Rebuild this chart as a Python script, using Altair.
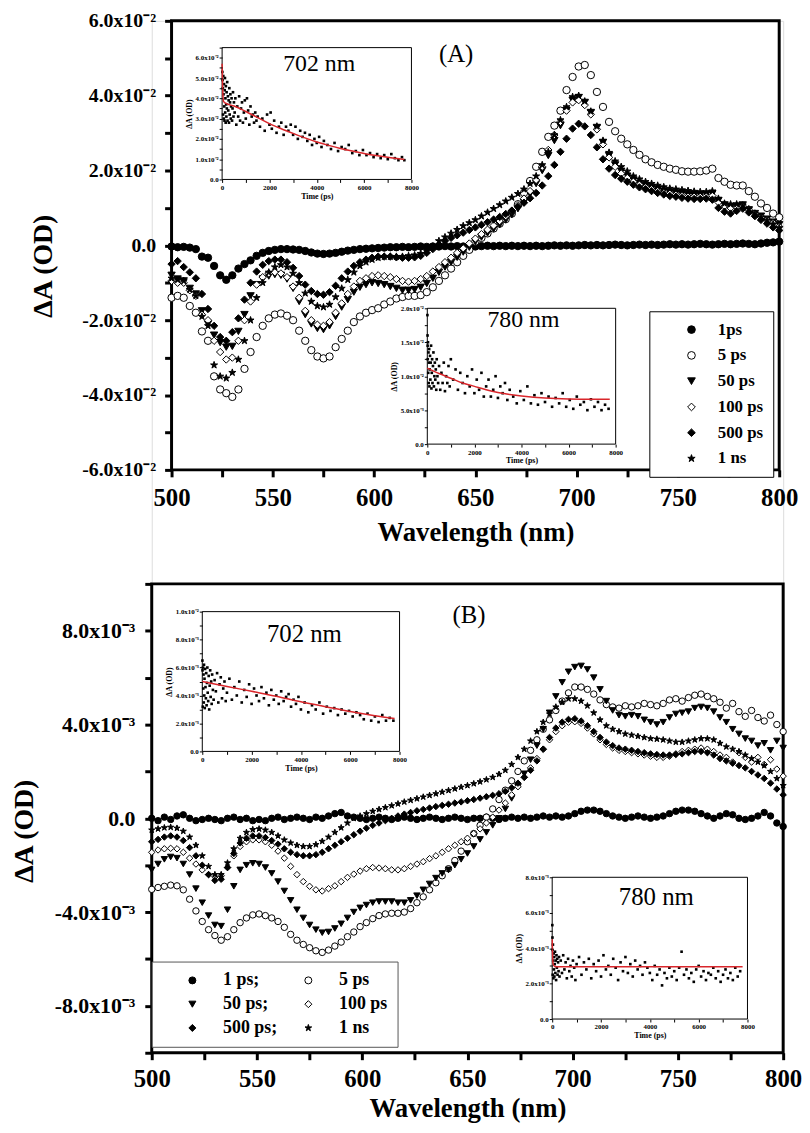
import altair as alt
import pandas as pd

FONT = "Liberation Serif"
W, H = 637, 1041
M2 = "x10\u207b\u00b2"
M3 = "x10\u207b\u00b3"
STAR = ("M0,-1L0.2245,-0.309L0.951,-0.309L0.363,0.118L0.588,0.809L0,0.382"
        "L-0.588,0.809L-0.363,0.118L-0.951,-0.309L-0.2245,-0.309Z")
STYLE = {
    "1ps": ("circle", "black"), "1 ps": ("circle", "black"),
    "5 ps": ("circle", "white"), "50 ps": ("triangle-down", "black"),
    "100 ps": ("diamond", "white"), "500 ps": ("diamond", "black"),
    "1 ns": (STAR, "black"),
}

# ---------------- Panel A (values in 1e-2 OD) ----------------
names_A = ["1ps", "5 ps", "50 ps", "100 ps", "500 ps", "1 ns"]
wl_A = list(range(500, 801, 3))
A_1ps = [-0.03, -0.05, -0.04, -0.06, -0.1, -0.3, -0.33, -0.55, -0.8, -0.92,
         -0.8, -0.62, -0.5, -0.4, -0.28, -0.2, -0.15, -0.12, -0.1, -0.1,
         -0.11, -0.12, -0.15, -0.19, -0.22, -0.23, -0.22, -0.2, -0.17, -0.14,
         -0.12, -0.1, -0.09, -0.08, -0.07, -0.06, -0.05, -0.05, -0.04, -0.05,
         -0.04, -0.03, -0.04, -0.03, -0.03, -0.02, -0.03, -0.02, -0.03, -0.02,
         -0.03, -0.02, -0.01, -0.02, -0.01, -0.02, -0.01, -0.02, -0.01, -0.02,
         -0.01, -0.02, -0.01, 0.0, -0.01, 0.0, -0.01, 0.0, 0.01, 0.0,
         0.01, 0.0, 0.01, 0.02, 0.01, 0.0, 0.01, 0.02, 0.01, 0.02,
         0.01, 0.02, 0.03, 0.02, 0.03, 0.02, 0.03, 0.04, 0.03, 0.02,
         0.03, 0.04, 0.03, 0.04, 0.05, 0.04, 0.03, 0.05, 0.07, 0.08,
         0.1]
A_5ps = [-1.4, -1.35, -1.4, -1.62, -1.8, -2.3, -2.55, -3.5, -3.85, -3.95,
         -4.05, -3.85, -3.3, -2.85, -2.45, -2.15, -1.95, -1.85, -1.82, -1.88,
         -2.0, -2.28, -2.55, -2.8, -2.97, -3.02, -2.97, -2.72, -2.5, -2.28,
         -2.05, -1.9, -1.8, -1.73, -1.68, -1.58, -1.5, -1.42, -1.38, -1.35,
         -1.35, -1.33, -1.25, -1.12, -0.95, -0.8, -0.62, -0.45, -0.28, -0.12,
         0.1, 0.2, 0.32, 0.45, 0.58, 0.7, 0.85, 1.1, 1.4, 1.72,
         2.1, 2.5, 2.9, 3.2, 3.6, 4.15, 4.5, 4.78, 4.82, 4.55,
         4.1, 3.7, 3.3, 3.05, 2.85, 2.7, 2.55, 2.42, 2.3, 2.22,
         2.15, 2.1, 2.05, 2.02, 1.98, 1.97, 1.97, 1.98, 2.0, 2.05,
         1.8, 1.7, 1.62, 1.6, 1.6, 1.45, 1.3, 1.12, 1.0, 0.85,
         0.75]
A_50ps = [-0.8, -0.9, -0.95, -1.15, -1.3, -1.75, -2.1, -2.4, -2.6, -2.72,
          -2.7, -2.3, -1.85, -1.35, -1.05, -0.9, -0.82, -0.78, -0.8, -0.9,
          -1.15, -1.5, -1.85, -2.1, -2.22, -2.25, -2.15, -1.9, -1.65, -1.45,
          -1.25, -1.12, -1.05, -1.0, -1.02, -1.05, -1.1, -1.15, -1.2, -1.2,
          -1.18, -1.12, -1.02, -0.88, -0.72, -0.58, -0.45, -0.32, -0.18, -0.05,
          0.1, 0.22, 0.33, 0.44, 0.55, 0.68, 0.82, 0.98, 1.15, 1.38,
          1.65, 2.0, 2.4, 2.8, 3.2, 3.6, 3.88, 3.95, 3.82, 3.55,
          3.15, 2.75, 2.4, 2.15, 1.98, 1.85, 1.75, 1.66, 1.6, 1.55,
          1.5, 1.45, 1.42, 1.4, 1.38, 1.36, 1.35, 1.35, 1.36, 1.38,
          1.2, 1.08, 1.02, 1.05, 1.08, 0.95, 0.85, 0.78, 0.7, 0.62,
          0.55]
A_100ps = [-0.95, -1.0, -1.0, -1.2, -1.35, -1.85, -2.0, -2.55, -2.85, -3.05,
           -3.0, -2.55, -2.0, -1.5, -1.05, -0.85, -0.75, -0.72, -0.75, -0.85,
           -1.1, -1.4, -1.75, -2.0, -2.12, -2.15, -2.05, -1.8, -1.55, -1.3,
           -1.1, -0.95, -0.88, -0.82, -0.8, -0.82, -0.85, -0.9, -0.95, -0.97,
           -0.95, -0.9, -0.82, -0.7, -0.58, -0.45, -0.33, -0.2, -0.08, 0.05,
           0.18, 0.3, 0.42, 0.53, 0.65, 0.78, 0.92, 1.07, 1.25, 1.45,
           1.75, 2.1, 2.55, 2.95, 3.3, 3.6, 3.82, 3.88, 3.75, 3.5,
           3.1, 2.7, 2.35, 2.1, 1.92, 1.8, 1.7, 1.62, 1.55, 1.5,
           1.45, 1.4, 1.38, 1.35, 1.32, 1.3, 1.3, 1.3, 1.32, 1.33,
           1.15, 1.05, 1.0, 1.02, 1.05, 0.95, 0.85, 0.75, 0.68, 0.6,
           0.5]
A_500ps = [-0.5, -0.42, -0.58, -0.72, -0.88, -1.3, -1.7, -2.15, -2.45, -2.55,
           -2.32, -1.95, -1.45, -1.0, -0.7, -0.52, -0.42, -0.38, -0.38, -0.45,
           -0.6, -0.82, -1.05, -1.22, -1.3, -1.32, -1.25, -1.08, -0.88, -0.7,
           -0.55, -0.45, -0.38, -0.33, -0.3, -0.3, -0.3, -0.32, -0.33, -0.33,
           -0.32, -0.28, -0.2, -0.1, 0.02, 0.12, 0.2, 0.27, 0.34, 0.41,
           0.48, 0.55, 0.62, 0.69, 0.76, 0.84, 0.93, 1.03, 1.14, 1.26,
           1.4, 1.6, 1.85, 2.15, 2.5, 2.85, 3.12, 3.25, 3.18, 2.95,
           2.62, 2.3, 2.05, 1.88, 1.78, 1.7, 1.62, 1.55, 1.5, 1.45,
           1.4, 1.36, 1.32, 1.3, 1.27, 1.25, 1.24, 1.24, 1.25, 1.22,
           1.0, 0.9, 0.85, 0.92, 0.98, 0.88, 0.78, 0.68, 0.58, 0.48,
           0.4]
A_1ns = [-0.88, -0.92, -0.95, -1.18, -1.35, -1.9, -2.15, -3.2, -3.5, -3.55,
         -3.4, -3.05, -2.55, -2.0, -1.4, -1.0, -0.72, -0.58, -0.52, -0.58,
         -0.75, -1.0, -1.28, -1.5, -1.62, -1.65, -1.58, -1.38, -1.15, -0.92,
         -0.72, -0.55, -0.45, -0.38, -0.33, -0.3, -0.3, -0.3, -0.3, -0.28,
         -0.26, -0.22, -0.15, -0.03, 0.12, 0.22, 0.32, 0.42, 0.52, 0.6,
         0.68, 0.78, 0.88, 0.98, 1.08, 1.18, 1.28, 1.38, 1.5, 1.65,
         1.85, 2.15, 2.5, 2.95, 3.35, 3.7, 3.97, 4.0, 3.85, 3.58,
         3.18, 2.8, 2.48, 2.25, 2.1, 1.98, 1.85, 1.77, 1.7, 1.65,
         1.6, 1.56, 1.52, 1.5, 1.48, 1.46, 1.44, 1.43, 1.43, 1.45,
         1.25, 1.12, 1.1, 1.1, 1.07, 0.97, 0.85, 0.75, 0.67, 0.57,
         0.47]

# ---------------- Panel B (values in 1e-3 OD) ----------------
# legend order (column-major grid): 1 ps; 50 ps; 500 ps; | 5 ps 100 ps 1 ns
names_B = ["1 ps", "50 ps", "500 ps", "5 ps", "100 ps", "1 ns"]
wl_B = list(range(500, 801, 3))
B_1ps = [0.0, -0.1, 0.05, -0.05, 0.1, 0.15, 0.0, -0.1, -0.05, 0.0,
         -0.05, -0.1, 0.0, 0.05, -0.05, 0.0, -0.1, -0.05, -0.1, 0.0,
         0.05, -0.05, 0.0, 0.05, 0.0, -0.05, 0.05, 0.0, 0.1, 0.2,
         0.25, 0.1, 0.05, 0.0, -0.05, 0.0, 0.05, 0.0, -0.05, 0.0,
         0.05, 0.0, -0.05, 0.0, 0.05, 0.0, -0.05, 0.0, 0.05, 0.0,
         -0.05, 0.0, 0.0, 0.05, 0.0, -0.05, 0.0, 0.05, 0.0, 0.05,
         0.0, 0.05, 0.1, 0.05, 0.1, 0.05, 0.1, 0.2, 0.3, 0.35,
         0.35, 0.3, 0.2, 0.1, 0.05, 0.0, 0.05, 0.1, 0.05, 0.0,
         0.05, 0.1, 0.2, 0.3, 0.35, 0.35, 0.3, 0.2, 0.1, 0.0,
         0.1, 0.2, 0.15, 0.0, -0.05, 0.0, 0.1, 0.25, 0.1, -0.2,
         -0.35]
B_5ps = [-3.03, -2.95, -2.9, -2.85, -2.88, -3.05, -3.45, -3.95, -4.4, -4.75,
         -5.0, -5.2, -5.05, -4.75, -4.45, -4.25, -4.12, -4.08, -4.15, -4.25,
         -4.4, -4.65, -4.95, -5.2, -5.38, -5.52, -5.65, -5.72, -5.62, -5.45,
         -5.28, -5.05, -4.85, -4.62, -4.45, -4.28, -4.15, -4.08, -4.05, -4.05,
         -4.0, -3.85, -3.6, -3.35, -3.05, -2.75, -2.45, -2.15, -1.8, -1.4,
         -1.0, -0.65, -0.3, 0.05, 0.4, 0.8, 1.2, 1.6, 2.0, 2.45,
         2.9, 3.35, 3.8, 4.2, 4.6, 5.0, 5.35, 5.6, 5.6, 5.5,
         5.3, 5.05, 4.85, 4.75, 4.7, 4.8, 4.75, 4.8, 4.9, 4.85,
         4.8, 4.9, 5.05, 5.1, 5.0, 5.15, 5.25, 5.3, 5.2, 5.1,
         4.95, 4.7, 4.9, 4.55, 4.35, 4.6, 4.3, 4.15, 4.4, 4.0,
         3.7]
B_50ps = [-2.2, -1.95, -1.75, -1.65, -1.7, -1.95, -2.4, -3.0, -3.6, -4.15,
          -4.55, -4.6, -3.9, -2.9, -2.2, -2.0, -1.92, -1.95, -2.1, -2.35,
          -2.7, -3.1, -3.5, -3.9, -4.25, -4.55, -4.75, -4.88, -4.85, -4.7,
          -4.5, -4.25, -4.0, -3.82, -3.7, -3.6, -3.55, -3.55, -3.55, -3.6,
          -3.6, -3.5, -3.3, -3.05, -2.8, -2.55, -2.35, -2.2, -2.0, -1.75,
          -1.5, -1.2, -0.9, -0.6, -0.3, 0.0, 0.4, 0.85, 1.35, 1.9,
          2.5, 3.1, 3.8, 4.5, 5.2, 5.8, 6.25, 6.45, 6.5, 6.35,
          6.0, 5.5, 5.0, 4.6, 4.4, 4.35, 4.4, 4.35, 4.2, 4.1,
          4.0, 4.1, 4.3, 4.45, 4.5, 4.55, 4.7, 4.75, 4.7, 4.55,
          4.3, 4.1, 3.8, 3.6, 3.4, 3.3, 3.1, 3.2, 2.9, 3.3,
          3.0]
B_100ps = [-1.45, -1.35, -1.3, -1.28, -1.3, -1.45, -1.7, -1.95, -2.2, -2.4,
           -2.5, -2.45, -2.1, -1.6, -1.2, -1.0, -0.92, -0.92, -1.0, -1.15,
           -1.4, -1.7, -2.05, -2.4, -2.7, -2.9, -3.05, -3.1, -3.0, -2.88,
           -2.7, -2.52, -2.38, -2.25, -2.15, -2.1, -2.12, -2.15, -2.2, -2.2,
           -2.15, -2.05, -1.95, -1.85, -1.72, -1.6, -1.45, -1.3, -1.15, -1.0,
           -0.85, -0.65, -0.45, -0.2, 0.05, 0.35, 0.65, 1.0, 1.35, 1.75,
           2.15, 2.55, 2.95, 3.35, 3.7, 3.95, 4.1, 4.12, 4.05, 3.85,
           3.6, 3.35, 3.15, 3.0, 2.9, 2.85, 2.8, 2.75, 2.7, 2.65,
           2.6, 2.6, 2.65, 2.75, 2.85, 2.9, 2.95, 3.0, 2.95, 2.85,
           2.7, 2.6, 2.4, 2.8, 2.6, 2.4, 2.6, 2.3, 2.5, 2.1,
           1.8]
B_500ps = [-1.0, -0.9, -0.8, -0.75, -0.8, -0.95, -1.25, -1.6, -2.0, -2.4,
           -2.65, -2.6, -2.1, -1.5, -1.05, -0.85, -0.75, -0.75, -0.82, -0.95,
           -1.1, -1.3, -1.45, -1.55, -1.6, -1.6, -1.55, -1.45, -1.3, -1.15,
           -1.0, -0.85, -0.7, -0.55, -0.42, -0.3, -0.2, -0.1, 0.0, 0.1,
           0.18, 0.25, 0.32, 0.38, 0.44, 0.5, 0.55, 0.6, 0.65, 0.7,
           0.75, 0.8, 0.86, 0.92, 0.98, 1.05, 1.15, 1.3, 1.5, 1.75,
           2.05, 2.45, 2.95, 3.45, 3.85, 4.1, 4.22, 4.25, 4.15, 3.95,
           3.7, 3.45, 3.25, 3.1, 3.0, 2.95, 2.9, 2.85, 2.8, 2.75,
           2.72, 2.7, 2.7, 2.72, 2.75, 2.8, 2.85, 2.85, 2.8, 2.7,
           2.55, 2.45, 2.35, 2.25, 2.15, 2.0, 1.85, 1.7, 1.5, 1.25,
           1.0]
B_1ns = [-0.5, -0.45, -0.4, -0.38, -0.42, -0.55, -0.8, -1.15, -1.6, -2.05,
         -2.4, -2.4, -1.9, -1.3, -0.85, -0.6, -0.48, -0.45, -0.5, -0.6,
         -0.75, -0.92, -1.05, -1.15, -1.2, -1.2, -1.12, -0.98, -0.8, -0.6,
         -0.4, -0.2, 0.0, 0.1, 0.2, 0.3, 0.38, 0.46, 0.54, 0.62,
         0.7, 0.77, 0.84, 0.91, 0.98, 1.05, 1.12, 1.19, 1.26, 1.33,
         1.4, 1.48, 1.56, 1.65, 1.75, 1.88, 2.05, 2.3, 2.6, 2.95,
         3.3, 3.7, 4.1, 4.45, 4.75, 4.95, 5.1, 5.1, 5.0, 4.8,
         4.5, 4.2, 3.95, 3.8, 3.7, 3.6, 3.55, 3.5, 3.45, 3.4,
         3.38, 3.35, 3.3, 3.25, 3.25, 3.3, 3.35, 3.4, 3.4, 3.35,
         3.2, 3.05, 2.95, 2.85, 2.7, 2.55, 2.4, 2.25, 2.0, 1.7,
         1.4]

# ---------------- Insets: kinetics (time in ps) ----------------
# A, 702 nm (1e-2 OD)
tA1 = [10, 20, 30, 40, 50, 60, 70, 80, 90, 100, 110, 120, 130, 140, 150, 160, 170, 180, 190, 200,
       215, 230, 245, 260, 275, 290, 305, 320, 335, 350, 365, 380, 400, 420, 440, 460, 480, 500,
       530, 560, 600, 640, 680, 720, 760, 800, 840, 880, 920, 960, 1000, 1050, 1100, 1150, 1200,
       1250, 1300, 1350, 1400, 1450, 1500,
       1600, 1700, 1800, 1900, 2000, 2050, 2100, 2200, 2300, 2400, 2500, 2600, 2700, 2800, 2900,
       3000, 3100, 3200, 3300, 3400, 3500,
       3600, 3700, 3800, 3900, 4000, 4100, 4200, 4300, 4450, 4600, 4750, 4900, 5050, 5200, 5350,
       5500, 5650, 5800, 5950, 6100, 6250, 6400, 6550, 6700, 6850, 7000, 7150, 7300, 7450, 7600, 7700]
vA1 = [5.3, 4.9, 4.5, 3.2, 5.1, 4.2, 3.0, 4.7, 3.6, 2.9, 4.4, 5.0, 3.3, 4.0, 2.8, 4.6, 3.7, 3.1, 4.3, 3.5,
       4.8, 2.9, 4.1, 3.4, 3.9, 2.8, 4.5, 3.2, 3.8, 4.2, 3.0, 3.6, 4.0, 2.9, 3.5, 4.3, 3.1, 3.8,
       3.3, 4.0, 2.7, 3.6, 3.1, 4.1, 2.9, 3.5, 3.8, 2.8, 3.3, 3.9, 3.0, 4.0, 3.4, 2.7, 3.6,
       3.1, 3.2, 2.8, 3.3, 2.9, 3.1,
       2.6, 3.0, 2.4, 3.2, 2.7, 3.3, 2.5, 2.9, 2.3, 2.6, 2.8, 2.2, 2.6, 2.4, 2.7,
       2.2, 2.6, 2.0, 2.4, 2.1, 2.3,
       1.9, 2.2, 1.7, 2.0, 1.8, 2.1, 1.6, 1.9, 1.7, 1.5, 1.8, 1.4, 1.6, 1.5, 1.7,
       1.3, 1.4, 1.2, 1.45, 1.2, 1.3, 1.1, 1.25, 1.05, 1.2, 1.0, 1.25, 1.05, 0.95, 1.1, 0.95]
fit_tA1 = [0, 25, 60, 150, 500, 1000, 1500, 2000, 2500, 3000, 3500, 4000, 4500, 5000, 5500, 6000, 6500, 7000, 7700]
fit_vA1 = [5.7, 4.4, 3.85, 3.76, 3.62, 3.35, 3.05, 2.75, 2.5, 2.27, 2.05, 1.85, 1.68, 1.53, 1.4, 1.28, 1.18, 1.09, 0.98]

# A, 780 nm (1e-2 OD)
tA2 = [5, 10, 15, 20, 30, 40, 50, 60, 70, 80, 90, 100, 115, 130, 145, 160, 175, 190, 205, 220,
       240, 260, 280, 300, 320, 340, 360, 380, 400, 430, 460, 500, 550, 600, 650, 700, 750, 800,
       850, 900, 950, 1000, 1100, 1200, 1300, 1400, 1500, 1600, 1700, 1800, 1900, 2000, 2100, 2200,
       2300, 2400, 2500, 2600, 2700, 2800, 2900, 3000, 3100, 3200, 3300, 3400, 3500, 3650, 3800,
       3950, 4100, 4250, 4400, 4550, 4700, 4850, 5000, 5150, 5300, 5450, 5600, 5750, 5900, 6050,
       6200, 6350, 6500, 6650, 6800, 6950, 7100, 7250, 7400, 7550, 7700]
vA2 = [1.9, 1.6, 1.45, 1.25, 1.5, 1.05, 1.35, 0.9, 1.2, 1.4, 0.85, 1.1, 1.3, 0.95, 1.2, 1.45, 0.82, 1.05, 1.25, 0.9,
       1.15, 1.35, 0.85, 1.0, 1.2, 0.95, 1.1, 0.8, 1.25, 1.0, 0.9, 1.15, 0.8, 1.05, 0.9, 1.2, 0.78, 1.0,
       0.9, 1.15, 0.85, 1.25, 0.95, 1.1, 0.8, 1.05, 0.9, 0.75, 1.0, 0.85, 1.1, 0.75, 0.95, 0.8,
       1.05, 0.7, 0.85, 0.95, 0.7, 0.8, 1.0, 0.68, 0.85, 0.75, 0.9, 0.65, 0.8, 0.7, 0.6,
       0.78, 0.65, 0.85, 0.6, 0.72, 0.58, 0.75, 0.62, 0.7, 0.55, 0.68, 0.6, 0.75, 0.55, 0.65,
       0.52, 0.7, 0.58, 0.62, 0.5, 0.66, 0.55, 0.62, 0.5, 0.58, 0.52]
fit_tA2 = [0, 500, 1000, 1500, 2000, 2500, 3000, 3500, 4000, 5000, 6000, 7000, 7750]
fit_vA2 = [1.12, 1.04, 0.97, 0.9, 0.85, 0.8, 0.76, 0.73, 0.71, 0.68, 0.665, 0.66, 0.66]

# B, 702 nm (1e-3 OD)
tB1 = [5, 10, 20, 30, 40, 50, 60, 70, 80, 90, 100, 115, 130, 145, 160, 175, 190, 205, 220, 240,
       260, 280, 300, 320, 340, 360, 380, 400, 430, 460, 500, 550, 600, 650, 700, 750, 800, 850,
       900, 950, 1000, 1100, 1200, 1300, 1400, 1500, 1600, 1700, 1800, 1900, 2000, 2100, 2200, 2300,
       2400, 2500, 2600, 2700, 2800, 2900, 3000, 3100, 3200, 3300, 3400, 3500, 3600, 3700, 3800,
       3900, 4000, 4150, 4300, 4450, 4600, 4750, 4900, 5050, 5200, 5350, 5500, 5650, 5800, 5950,
       6100, 6250, 6400, 6550, 6700, 6850, 7000, 7150, 7300, 7450, 7600, 7750]
vB1 = [6.5, 5.8, 3.2, 6.0, 4.5, 5.5, 3.5, 6.2, 4.0, 5.2, 3.1, 5.9, 4.6, 3.8, 5.6, 3.3, 4.9, 6.0, 4.2, 3.6,
       5.4, 3.0, 4.7, 5.8, 3.9, 5.0, 3.4, 5.5, 4.4, 3.7, 5.1, 4.3, 5.6, 3.5, 4.8, 5.3, 3.8, 4.5,
       5.0, 3.6, 4.2, 5.2, 3.7, 4.6, 4.0, 5.0, 3.5, 4.4, 3.9, 4.8, 3.4, 4.5, 4.0, 3.6,
       4.6, 3.8, 4.2, 3.3, 4.4, 3.7, 4.0, 3.4, 4.3, 3.6, 3.9, 4.1, 3.2, 3.7, 3.4,
       3.9, 3.0, 3.5, 2.8, 3.3, 3.0, 3.5, 2.7, 3.2, 2.9, 3.1, 2.6, 3.0, 2.7, 2.9,
       2.5, 2.8, 2.6, 2.3, 2.7, 2.2, 2.5, 2.1, 2.6, 2.2, 2.4, 2.2]
fit_tB1 = [0, 1000, 2000, 3000, 4000, 5000, 6000, 7000, 7800]
fit_vB1 = [5.0, 4.65, 4.3, 3.95, 3.55, 3.2, 2.85, 2.55, 2.35]

# B, 780 nm (1e-3 OD)
tB2 = [5, 10, 15, 20, 30, 40, 50, 60, 70, 80, 90, 100, 115, 130, 145, 160, 175, 190, 205, 220,
       240, 260, 280, 300, 350, 400, 450, 500, 550, 600, 650, 700, 750, 800, 850, 900, 950, 1000,
       1100, 1200, 1300, 1400, 1500, 1600, 1700, 1800, 1900, 2000, 2100, 2200, 2300, 2400, 2500,
       2600, 2700, 2800, 2900, 3000, 3100, 3200, 3300, 3400, 3500, 3600, 3700, 3800, 3900, 4000,
       4100, 4200, 4300, 4400, 4500, 4600, 4700, 4800, 4900, 5000, 5100, 5200, 5300, 5400, 5500,
       5600, 5700, 5800, 5900, 6000, 6100, 6200, 6300, 6400, 6500, 6600, 6700, 6800, 6900, 7000,
       7100, 7200, 7300, 7400, 7500, 7600, 7700]
vB2 = [5.3, 4.6, 3.9, 2.5, 4.2, 3.3, 2.3, 3.7, 2.8, 3.5, 2.4, 3.1, 3.8, 2.6, 3.3, 2.2, 3.6, 2.9, 3.4, 2.5,
       3.2, 2.7, 3.5, 2.4, 3.3, 2.6, 3.6, 2.8, 3.2, 2.3, 3.4, 2.7, 3.0, 2.4, 3.3, 2.9, 2.2, 3.1,
       3.5, 2.5, 3.2, 2.8, 3.4, 2.3, 3.1, 2.7, 3.3, 2.4, 3.6, 2.8, 3.0, 2.5, 3.4,
       2.9, 2.2, 3.2, 2.7, 3.5, 2.6, 3.1, 2.4, 3.3, 2.8, 3.0, 2.5, 3.2, 2.9, 2.6,
       2.2, 3.0, 2.5, 2.8, 1.9, 2.6, 2.3, 2.9, 2.4, 2.7, 2.2, 2.9, 3.8, 2.5, 2.8,
       2.3, 2.6, 2.1, 2.8, 3.0, 2.4, 2.7, 2.2, 2.6, 2.5, 2.9, 2.3, 2.7, 2.1, 2.5,
       2.8, 2.3, 2.6, 2.2, 2.9, 2.4, 2.7]
fit_tB2 = [0, 15, 40, 100, 300, 1000, 2000, 3000, 4000, 5000, 6000, 7000, 7800]
fit_vB2 = [4.5, 3.6, 3.1, 2.97, 2.95, 2.95, 2.95, 2.95, 2.95, 2.95, 2.95, 2.95, 2.95]


def long_df(wl, series):
    rows = []
    for name, vals in series:
        for w, v in zip(wl, vals):
            rows.append({"wl": w, "val": v, "series": name})
    return pd.DataFrame(rows)


def xy_df(t, v):
    return pd.DataFrame(list(zip(t, v)), columns=["t", "v"])


def main_x_axis(offset, title_y, lab_pad):
    return alt.Axis(
        orient="bottom", offset=offset, title="Wavelength (nm)",
        values=list(range(500, 801, 25)), format="d",
        labelExpr="datum.value % 50 == 0 ? datum.label : ''",
        domain=False, grid=False, ticks=True, tickSize=7, tickWidth=3, tickColor="black",
        labelFont=FONT, labelFontSize=25, labelFontWeight="bold", labelColor="black",
        labelPadding=lab_pad, labelBaseline="alphabetic", labelFlush=False, labelOverlap=False,
        titleFont=FONT, titleFontSize=27, titleFontWeight="bold", titleColor="black",
        titleY=title_y, titleBaseline="alphabetic")


def main_y_axis(offset, values, expr, lab_size, lab_pad, title_x, title_y):
    return alt.Axis(
        orient="left", offset=offset, title="\u0394A (OD)", values=values, labelExpr=expr,
        domain=False, grid=False, ticks=True, tickSize=7, tickWidth=3, tickColor="black",
        labelFont=FONT, labelFontSize=lab_size, labelFontWeight="bold", labelColor="black",
        labelPadding=lab_pad, labelFlush=False, labelOverlap=False,
        titleFont=FONT, titleFontSize=28, titleFontWeight="bold", titleColor="black",
        titleX=title_x, titleY=title_y)


def main_layer(df, names, xr, yr, ydom, xaxis, yaxis, legend, size, label, lx, ly):
    xs = alt.Scale(domain=[500, 800], range=xr, nice=False, zero=False)
    ys = alt.Scale(domain=ydom, range=yr, nice=False, zero=False)
    shapes = [STYLE[n][0] for n in names]
    fills = [STYLE[n][1] for n in names]
    fdf = pd.DataFrame({"x0": [500], "x1": [800], "y0": [ydom[0]], "y1": [ydom[1]]})
    frame = alt.Chart(fdf).mark_rect(fillOpacity=0, stroke="black", strokeWidth=3).encode(
        x=alt.X("x0:Q", scale=xs, axis=xaxis), x2="x1:Q",
        y=alt.Y("y0:Q", scale=ys, axis=yaxis), y2="y1:Q")
    pts = alt.Chart(df).mark_point(filled=True, size=size, strokeWidth=1, opacity=1).encode(
        x=alt.X("wl:Q", scale=xs, axis=xaxis),
        y=alt.Y("val:Q", scale=ys, axis=yaxis),
        shape=alt.Shape("series:N", scale=alt.Scale(domain=names, range=shapes), legend=legend),
        fill=alt.Fill("series:N", scale=alt.Scale(domain=names, range=fills), legend=legend),
        stroke=alt.Stroke("series:N", scale=alt.Scale(domain=names, range=["black"] * 6),
                          legend=legend))
    tdf = pd.DataFrame({"wl": [lx], "val": [ly], "txt": [label]})
    txt = alt.Chart(tdf).mark_text(font=FONT, fontSize=25, color="black",
                                   baseline="alphabetic", align="center").encode(
        x=alt.X("wl:Q", scale=xs, axis=xaxis),
        y=alt.Y("val:Q", scale=ys, axis=yaxis),
        text="txt:N")
    return alt.layer(frame, pts, txt)


def inset_layer(t, v, ft, fv, ymax, xr, yr, yvals, yexpr, label, lt, lv, lsize):
    xs = alt.Scale(domain=[0, 8000], range=xr, nice=False, zero=False)
    ys = alt.Scale(domain=[0, ymax], range=yr, nice=False, zero=False)
    xax = alt.Axis(
        orient="bottom", offset=yr[0] - H, title="Time (ps)",
        values=list(range(0, 8001, 1000)), format="d",
        labelExpr="datum.value % 2000 == 0 ? datum.label : ''",
        domain=False, grid=False, tickSize=3, tickWidth=1, tickColor="black",
        labelFont=FONT, labelFontSize=7, labelFontWeight="bold", labelColor="black",
        labelPadding=1, labelFlush=False, labelOverlap=False,
        titleFont=FONT, titleFontSize=8, titleFontWeight="bold", titleColor="black",
        titlePadding=2, zindex=1)
    yax = alt.Axis(
        orient="left", offset=-xr[0], title="\u0394A (OD)", values=yvals, labelExpr=yexpr,
        domain=False, grid=False, tickSize=3, tickWidth=1, tickColor="black",
        labelFont=FONT, labelFontSize=7, labelFontWeight="bold", labelColor="black",
        labelPadding=1, labelFlush=False, labelOverlap=False,
        titleFont=FONT, titleFontSize=8, titleFontWeight="bold", titleColor="black",
        titlePadding=2, zindex=1)
    fdf = pd.DataFrame({"t": [0], "t2": [8000], "v": [0], "v2": [ymax]})
    frame = alt.Chart(fdf).mark_rect(fill="white", stroke="black", strokeWidth=1).encode(
        x=alt.X("t:Q", scale=xs, axis=xax), x2="t2:Q",
        y=alt.Y("v:Q", scale=ys, axis=yax), y2="v2:Q")
    pts = alt.Chart(xy_df(t, v)).mark_square(size=7, color="black", opacity=1).encode(
        x=alt.X("t:Q", scale=xs, axis=xax), y=alt.Y("v:Q", scale=ys, axis=yax))
    fit = alt.Chart(xy_df(ft, fv)).mark_line(color="#d9262b", strokeWidth=1.5,
                                             interpolate="monotone").encode(
        x=alt.X("t:Q", scale=xs, axis=xax), y=alt.Y("v:Q", scale=ys, axis=yax))
    ldf = pd.DataFrame({"t": [lt], "v": [lv], "txt": [label]})
    txt = alt.Chart(ldf).mark_text(font=FONT, fontSize=lsize, color="black",
                                   baseline="alphabetic", align="center").encode(
        x=alt.X("t:Q", scale=xs, axis=xax), y=alt.Y("v:Q", scale=ys, axis=yax),
        text="txt:N")
    return alt.layer(frame, pts, fit, txt)


dfA = long_df(wl_A, [("1ps", A_1ps), ("5 ps", A_5ps), ("50 ps", A_50ps),
                     ("100 ps", A_100ps), ("500 ps", A_500ps), ("1 ns", A_1ns)])
dfB = long_df(wl_B, [("1 ps", B_1ps), ("5 ps", B_5ps), ("50 ps", B_50ps),
                     ("100 ps", B_100ps), ("500 ps", B_500ps), ("1 ns", B_1ns)])

exprA = ("datum.value % 2 != 0 ? '' : datum.value == 0 ? '0.0' : "
         "(datum.value < 0 ? '-' : '') + format(abs(datum.value), '.1f') + '" + M2 + "'")
exprB = ("datum.value % 4 != 0 ? '' : datum.value == 0 ? '0.0' : "
         "(datum.value < 0 ? '-' : '') + format(abs(datum.value), '.1f') + '" + M3 + "'")

legA = alt.Legend(orient="none", legendX=502, legendY=293, title=None,
                  padding=10, rowPadding=8, symbolSize=60, symbolStrokeColor="black",
                  symbolStrokeWidth=1, symbolOffset=24, labelOffset=18,
                  labelFont=FONT, labelFontSize=17, labelFontWeight="bold", labelColor="black",
                  strokeColor="black", fillColor="white")
legB = alt.Legend(orient="none", legendX=0, legendY=949, title=None, columns=2,
                  padding=10, rowPadding=6, columnPadding=0, symbolSize=50,
                  symbolStrokeColor="black", symbolStrokeWidth=1, symbolOffset=22,
                  labelOffset=22, labelFont=FONT, labelFontSize=18, labelFontWeight="bold",
                  labelColor="black", strokeColor="#555555", fillColor="white",
                  labelExpr="indexof(['1 ps','50 ps','500 ps'], datum.label) >= 0 ? datum.label + ';' : datum.label")

mainA = main_layer(dfA, names_A, [20, 633], [453, 0], [-6, 6],
                   main_x_axis(453 - H, 71, 29),
                   main_y_axis(-20, list(range(-6, 7)), exprA, 20, 9, -115, 247),
                   legA, 55, "(A)", 640.5, 4.9)
mainB = main_layer(dfB, names_B, [0, 637], [1041, 568], [-10, 10],
                   main_x_axis(0, 64, 27),
                   main_y_axis(0, list(range(-10, 11, 2)), exprB, 22, 10, -114, 817),
                   legB, 42, "(B)", 650.7, 8.34)

insA1 = inset_layer(tA1, vA1, fit_tA1, fit_vA1, 6.5, [71, 262], [160, 27],
                    [x / 2 for x in range(0, 14)],
                    "datum.value % 1 != 0 ? '' : datum.value == 0 ? '0.0' : format(datum.value, '.1f') + '" + M2 + "'",
                    "702 nm", 4100, 5.35, 24)
insA2 = inset_layer(tA2, vA2, fit_tA2, fit_vA2, 2.0, [278, 468], [427, 290],
                    [x / 4 for x in range(0, 9)],
                    "datum.value % 0.5 != 0 ? '' : datum.value == 0 ? '0.0' : datum.value < 1 ? "
                    "format(datum.value * 10, '.1f') + '" + M3 + "' : format(datum.value, '.1f') + '" + M2 + "'",
                    "780 nm", 4084, 1.72, 24)
insB1 = inset_layer(tB1, vB1, fit_tB1, fit_vB1, 10, [51, 250], [737, 596],
                    list(range(0, 11)),
                    "datum.value % 2 != 0 ? '' : datum.value == 0 ? '0.0' : datum.value >= 10 ? '1.0"
                    + M2 + "' : format(datum.value, '.1f') + '" + M3 + "'",
                    "702 nm", 4141, 7.8, 25)
insB2 = inset_layer(tB2, vB2, fit_tB2, fit_vB2, 8, [404, 601], [1007, 864],
                    list(range(0, 9)),
                    "datum.value % 2 != 0 ? '' : datum.value == 0 ? '0.0' : format(datum.value, '.1f') + '" + M3 + "'",
                    "780 nm", 4264, 6.42, 25)

chart = alt.layer(mainA, insA1, insA2, mainB, insB1, insB2).resolve_scale(
    x="independent", y="independent", shape="independent", fill="independent",
    stroke="independent"
).properties(
    width=W, height=H,
    autosize=alt.AutoSizeParams(type="none"),
    padding={"left": 145, "top": 8, "right": 19, "bottom": 76},
).configure_view(strokeWidth=0).configure(font=FONT)

chart.save("out.html", embed_options={"renderer": "svg", "actions": False})
